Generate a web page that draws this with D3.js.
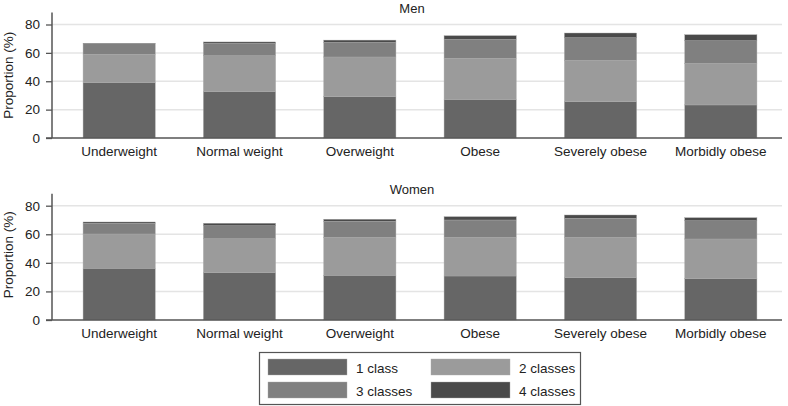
<!DOCTYPE html>
<html>
<head>
<meta charset="utf-8">
<script src="https://cdn.jsdelivr.net/npm/d3@7"></script>
<style>
  body { margin: 0; background: #fff; }
  svg { display: block; }
  text { font-family: "Liberation Sans", Arial, sans-serif; fill: #222; }
</style>
</head>
<body>
<svg id="chart" width="788" height="406"></svg>
<script>
const categories = ["Underweight", "Normal weight", "Overweight", "Obese", "Severely obese", "Morbidly obese"];
const seriesNames = ["1 class", "2 classes", "3 classes", "4 classes"];
const yTicks = [0, 20, 40, 60, 80];

// Men
const men1 = [39.0, 32.6, 29.1, 27.2, 25.6, 23.3];
const men2 = [20.0, 25.4, 28.0, 29.0, 29.1, 29.3];
const men3 = [7.5, 8.7, 10.3, 13.3, 16.0, 16.0];
const men4 = [0.3, 1.0, 1.6, 2.6, 3.3, 4.2];

// Women
const women1 = [36.2, 33.1, 31.3, 30.8, 29.6, 28.9];
const women2 = [24.0, 23.8, 26.6, 27.1, 28.3, 27.8];
const women3 = [7.5, 9.1, 11.2, 12.1, 13.3, 12.8];
const women4 = [0.9, 1.7, 1.4, 2.3, 2.3, 2.1];

const colors = ["#666666", "#9b9b9b", "#808080", "#4a4a4a"];

const svg = d3.select("#chart");

function buildRows(s1, s2, s3, s4) {
  return categories.map((c, i) => ({
    cat: c, "1 class": s1[i], "2 classes": s2[i], "3 classes": s3[i], "4 classes": s4[i]
  }));
}

const x = d3.scaleBand().domain(categories).range([59, 781])
  .paddingInner(0.4).paddingOuter(0.2);

function panel(title, rows, y0, y80, labelOffset) {
  const y = d3.scaleLinear().domain([0, 80]).range([y0, y80]);
  const g = svg.append("g");
  // grid
  g.selectAll("line.grid").data(yTicks.filter(t => t > 0)).enter().append("line")
    .attr("x1", 52).attr("x2", 782)
    .attr("y1", d => y(d)).attr("y2", d => y(d))
    .attr("stroke", "#e4e4e4").attr("stroke-width", 1.5);

  const stack = d3.stack().keys(seriesNames)(rows);
  g.selectAll("g.series").data(stack).enter().append("g")
    .attr("fill", (d, i) => colors[i])
    .selectAll("rect").data(d => d).enter().append("rect")
    .attr("x", d => x(d.data.cat))
    .attr("width", x.bandwidth())
    .attr("y", d => y(d[1]))
    .attr("height", d => y(d[0]) - y(d[1]))
    .attr("stroke", "#a8a8a8").attr("stroke-width", 0.4);

  // y axis
  const yAxis = d3.axisLeft(y).tickValues(yTicks).tickSize(6).tickPadding(6);
  const ya = g.append("g").attr("transform", "translate(52,0)").call(yAxis);
  ya.select(".domain").remove();
  ya.selectAll(".tick line").attr("stroke", "#555").attr("stroke-width", 1.3);
  ya.selectAll(".tick text").attr("font-size", 13.5).attr("fill", "#222")
    .attr("font-family", "Liberation Sans, Arial, sans-serif");
  g.append("line").attr("x1", 52).attr("x2", 52).attr("y1", y(0)).attr("y2", y80 - 12)
    .attr("stroke", "#555").attr("stroke-width", 1.5);

  // x axis
  const xAxis = d3.axisBottom(x).tickSize(0).tickPadding(8);
  const xa = g.append("g").attr("transform", `translate(0,${y0})`).call(xAxis);
  xa.select(".domain").remove();
  xa.selectAll(".tick text").attr("font-size", 13.5).attr("fill", "#222")
    .attr("font-family", "Liberation Sans, Arial, sans-serif");
  g.append("line").attr("x1", 46).attr("x2", 782).attr("y1", y0).attr("y2", y0)
    .attr("stroke", "#555").attr("stroke-width", 1.5);

  // title
  g.append("text").attr("x", 412).attr("y", y80 - 12).attr("text-anchor", "middle")
    .attr("font-size", 13).text(title);

  // y label
  g.append("text").attr("transform", `translate(13,${(y0 + y80) / 2 + labelOffset}) rotate(-90)`)
    .attr("text-anchor", "middle").attr("font-size", 13.5).text("Proportion (%)");
}

panel("Men", buildRows(men1, men2, men3, men4), 138, 24.5, -6);
panel("Women", buildRows(women1, women2, women3, women4), 320, 205.7, -8);

// legend
const lg = svg.append("g");
lg.append("rect").attr("x", 259.5).attr("y", 352.5).attr("width", 321).attr("height", 52)
  .attr("fill", "#fff").attr("stroke", "#555").attr("stroke-width", 1.2);
const legendPos = [
  { sx: 268, sy: 359 }, { sx: 431, sy: 359 },
  { sx: 268, sy: 382 }, { sx: 431, sy: 382 }
];
seriesNames.forEach((name, i) => {
  const p = legendPos[i];
  lg.append("rect").attr("x", p.sx).attr("y", p.sy).attr("width", 79).attr("height", 16)
    .attr("fill", colors[i]).attr("stroke", "#aaa").attr("stroke-width", 0.4);
  lg.append("text").attr("x", p.sx + 88).attr("y", p.sy + 14)
    .attr("font-size", 13.5).text(name);
});
</script>
</body>
</html>
